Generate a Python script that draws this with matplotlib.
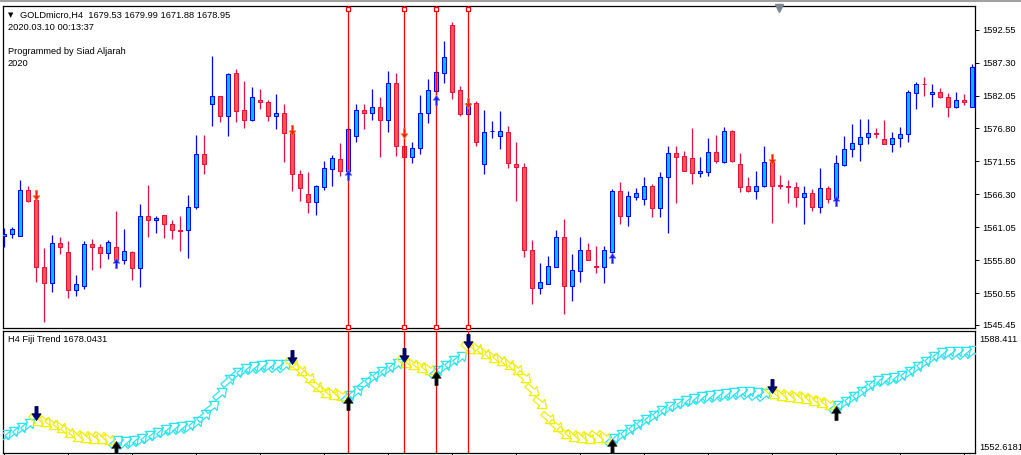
import matplotlib
matplotlib.use('Agg')
import matplotlib.pyplot as plt
from matplotlib.path import Path
from matplotlib.markers import MarkerStyle
from matplotlib.transforms import Affine2D, offset_copy
from matplotlib.lines import Line2D

plt.rcParams['font.family'] = ['Liberation Sans', 'DejaVu Sans']

# GOLDmicro H4 candles
opens = [
    1559.65, 1559.97, 1559.65, 1566.98, 1565.39, 1554.70, 1552.15, 1558.53, 1557.10, 1551.03,
    1551.67, 1558.37, 1557.89, 1556.94, 1557.89, 1555.82, 1557.10, 1554.54, 1562.84, 1562.20,
    1563.00, 1561.56, 1560.60, 1560.60, 1564.27, 1572.73, 1580.70, 1581.98, 1578.79, 1585.65,
    1579.74, 1578.15, 1581.34, 1581.02, 1578.79, 1579.27, 1576.08, 1569.54, 1566.35, 1565.07,
    1567.46, 1570.33, 1571.93, 1570.02, 1575.60, 1579.74, 1579.27, 1580.22, 1578.15, 1584.05,
    1574.00, 1572.25, 1573.68, 1579.27, 1582.78, 1585.65, 1593.30, 1582.93, 1579.11, 1580.86,
    1571.13, 1576.32, 1575.60, 1576.24, 1571.13, 1570.65, 1557.41, 1551.35, 1551.99, 1554.70,
    1559.49, 1551.67, 1554.07, 1557.41, 1554.78, 1554.70, 1557.10, 1566.83, 1562.84, 1565.87,
    1565.55, 1567.62, 1564.11, 1569.06, 1572.89, 1572.41, 1572.09, 1569.70, 1569.86, 1573.05,
    1571.45, 1576.40, 1571.13, 1567.62, 1566.83, 1567.62, 1571.45, 1567.78, 1567.62, 1567.46,
    1565.87, 1566.51, 1564.27, 1567.30, 1565.71, 1570.97, 1573.52, 1574.32, 1575.44, 1576.08,
    1575.12, 1574.32, 1575.28, 1575.92, 1582.46, 1583.89, 1582.30, 1582.62, 1581.82, 1580.22,
    1581.34, 1580.22]
highs = [
    1560.92, 1561.08, 1568.58, 1567.62, 1566.51, 1557.73, 1559.81, 1559.49, 1558.85, 1553.43,
    1558.85, 1559.17, 1558.37, 1559.01, 1563.64, 1560.76, 1557.26, 1564.75, 1567.78, 1562.84,
    1563.00, 1562.20, 1562.84, 1566.19, 1575.76, 1575.76, 1588.36, 1581.98, 1585.65, 1586.28,
    1584.37, 1583.41, 1583.09, 1581.34, 1582.30, 1580.70, 1576.87, 1570.17, 1569.86, 1567.78,
    1571.61, 1572.57, 1574.48, 1577.03, 1580.70, 1580.70, 1583.09, 1581.82, 1585.97, 1585.65,
    1576.40, 1574.64, 1582.14, 1584.69, 1586.12, 1590.75, 1593.78, 1583.57, 1581.18, 1581.18,
    1579.74, 1577.99, 1579.59, 1577.19, 1574.64, 1571.29, 1559.01, 1555.34, 1556.46, 1560.60,
    1562.36, 1556.78, 1559.49, 1558.53, 1558.05, 1558.05, 1567.14, 1568.26, 1566.83, 1567.30,
    1569.06, 1567.94, 1569.86, 1574.00, 1574.00, 1573.21, 1576.87, 1572.25, 1575.28, 1575.76,
    1577.03, 1576.55, 1572.89, 1569.06, 1570.02, 1574.00, 1572.25, 1569.38, 1568.58, 1568.26,
    1567.62, 1567.14, 1570.49, 1567.62, 1572.57, 1575.60, 1577.51, 1578.31, 1578.31, 1576.87,
    1578.15, 1576.24, 1577.03, 1582.93, 1584.21, 1585.01, 1583.89, 1583.25, 1582.46, 1582.62,
    1582.30, 1587.08]
lows = [
    1557.89, 1559.33, 1559.65, 1565.07, 1552.31, 1545.93, 1550.72, 1556.78, 1549.76, 1550.08,
    1551.19, 1554.22, 1554.54, 1555.98, 1555.34, 1555.18, 1552.63, 1551.51, 1559.49, 1560.13,
    1559.33, 1559.17, 1557.26, 1556.14, 1563.95, 1569.54, 1577.19, 1577.83, 1575.60, 1577.83,
    1576.87, 1577.99, 1579.90, 1577.99, 1576.71, 1571.45, 1566.83, 1565.23, 1563.32, 1563.00,
    1566.98, 1567.62, 1569.22, 1569.38, 1574.64, 1576.71, 1578.15, 1572.25, 1576.24, 1572.41,
    1571.77, 1571.29, 1572.73, 1577.67, 1581.34, 1584.05, 1581.50, 1578.79, 1578.79, 1574.00,
    1569.54, 1575.28, 1573.52, 1570.49, 1565.23, 1556.30, 1548.80, 1550.40, 1551.99, 1554.70,
    1547.21, 1549.28, 1552.31, 1555.82, 1553.75, 1552.15, 1556.14, 1561.56, 1561.24, 1565.39,
    1564.59, 1562.68, 1562.68, 1560.13, 1564.91, 1570.02, 1567.94, 1569.06, 1569.22, 1571.29,
    1571.29, 1571.45, 1566.67, 1566.67, 1565.55, 1567.46, 1561.72, 1567.14, 1564.91, 1564.27,
    1561.56, 1563.64, 1563.32, 1564.91, 1565.23, 1570.81, 1572.25, 1571.61, 1574.32, 1575.28,
    1574.32, 1573.05, 1573.84, 1574.64, 1579.90, 1581.98, 1580.22, 1581.66, 1578.63, 1580.06,
    1580.54, 1580.22]
closes = [
    1559.97, 1560.76, 1566.98, 1565.23, 1554.70, 1552.15, 1558.53, 1557.89, 1551.03, 1551.99,
    1558.37, 1557.89, 1556.94, 1558.69, 1555.82, 1557.26, 1554.54, 1562.84, 1562.20, 1562.52,
    1561.56, 1560.60, 1560.45, 1564.27, 1572.73, 1571.13, 1581.98, 1578.79, 1585.49, 1579.59,
    1578.15, 1581.82, 1581.02, 1578.79, 1579.27, 1576.08, 1569.54, 1567.30, 1565.07, 1567.62,
    1570.49, 1572.09, 1570.02, 1576.71, 1579.74, 1579.27, 1580.22, 1578.15, 1584.05, 1574.00,
    1572.25, 1573.68, 1579.27, 1582.93, 1585.81, 1588.20, 1582.62, 1579.11, 1580.86, 1574.64,
    1576.24, 1576.40, 1576.40, 1571.29, 1570.65, 1557.41, 1551.35, 1552.31, 1554.86, 1559.49,
    1551.67, 1554.22, 1557.41, 1555.82, 1554.62, 1557.41, 1566.83, 1562.84, 1566.03, 1566.51,
    1567.62, 1564.11, 1569.06, 1572.89, 1572.25, 1570.02, 1569.70, 1570.02, 1573.05, 1571.61,
    1576.40, 1571.61, 1567.46, 1566.83, 1567.62, 1571.45, 1567.62, 1567.62, 1567.46, 1565.87,
    1566.51, 1564.27, 1567.30, 1565.55, 1571.29, 1573.52, 1574.48, 1575.44, 1576.08, 1575.92,
    1574.32, 1575.28, 1575.92, 1582.62, 1583.89, 1583.81, 1582.62, 1581.82, 1580.22, 1581.34,
    1581.02, 1586.60]

# Fiji Trend indicator line
fiji = [
    1557.90, 1558.78, 1559.95, 1561.12, 1562.30, 1562.00, 1561.12, 1560.24, 1558.78, 1557.60,
    1557.31, 1557.02, 1557.02, 1556.72, 1556.14, 1555.84, 1556.14, 1556.72, 1557.60, 1558.48,
    1559.36, 1559.95, 1560.24, 1560.54, 1561.71, 1563.76, 1566.40, 1570.22, 1574.03, 1576.09,
    1577.26, 1577.85, 1578.14, 1578.43, 1578.43, 1578.43, 1578.73, 1576.97, 1574.91, 1572.27,
    1570.51, 1569.93, 1569.63, 1569.34, 1570.81, 1573.15, 1574.91, 1576.38, 1577.55, 1578.73,
    1579.31, 1578.73, 1577.85, 1577.26, 1576.67, 1578.14, 1579.61, 1580.78, 1583.42, 1583.42,
    1581.96, 1580.78, 1579.90, 1578.73, 1577.26, 1574.91, 1571.10, 1567.29, 1562.88, 1560.54,
    1558.48, 1557.60, 1557.31, 1557.02, 1557.31, 1557.31, 1556.72, 1557.90, 1559.36, 1560.83,
    1562.30, 1563.47, 1564.94, 1566.11, 1566.99, 1567.87, 1568.46, 1569.05, 1569.34, 1569.63,
    1569.93, 1570.22, 1570.51, 1570.51, 1570.22, 1569.93, 1570.22, 1569.63, 1569.34, 1569.05,
    1568.75, 1568.17, 1567.58, 1566.99, 1566.40, 1567.58, 1569.05, 1570.51, 1572.27, 1573.74,
    1574.33, 1574.62, 1575.21, 1576.38, 1577.85, 1579.31, 1580.78, 1581.96, 1582.25, 1582.25,
    1582.25, 1582.54]

sell_bars = [4, 36, 50, 58, 96]
buy_bars = [14, 43, 54, 76, 104]
vline_bars = [43, 50, 54, 58]
price_ticks = [1592.55, 1587.30, 1582.05, 1576.80, 1571.55, 1566.30, 1561.05, 1555.80, 1550.55, 1545.45]
ind_labels = ['1588.411', '1552.6181']

W, H = 1021, 455
fig = plt.figure(figsize=(W / 100, H / 100), dpi=100)
fig.patch.set_facecolor('white')


def box(x0, y0, x1, y1):
    return [x0 / W, 1 - y1 / H, (x1 - x0) / W, (y1 - y0) / H]


ax = fig.add_axes(box(3, 6, 975, 328))
ax2 = fig.add_axes(box(3, 331, 975, 453))
n = len(closes)
xs = list(range(n))

# candles
up = [c >= o for o, c in zip(opens, closes)]
edge = ['#0000ff' if u else '#e0143c' for u in up]
fill = ['#00c0ff' if u else '#ff5252' for u in up]
bottoms = [min(o, c) for o, c in zip(opens, closes)]
heights = [abs(c - o) for o, c in zip(opens, closes)]
ax.vlines(xs, lows, highs, colors=edge, lw=0.9, zorder=2)
ax.bar(xs, heights, bottom=bottoms, width=0.58, color=fill, edgecolor=edge, linewidth=0.75, zorder=3)

# arrow shapes
block = Path([(-0.22, -1), (0.22, -1), (0.22, 0.05), (0.65, 0.05), (0, 1), (-0.65, 0.05), (-0.22, 0.05), (-0.22, -1)],
             [Path.MOVETO] + [Path.LINETO] * 6 + [Path.CLOSEPOLY])
arr_up = MarkerStyle(block)
arr_dn = MarkerStyle(block, transform=Affine2D().rotate_deg(180))
hollow = Path([(-1, -0.3), (0.1, -0.3), (0.1, -0.75), (1, 0), (0.1, 0.75), (0.1, 0.3), (-1, 0.3), (-1, -0.3)],
              [Path.MOVETO] + [Path.LINETO] * 6 + [Path.CLOSEPOLY])
h_up = MarkerStyle(hollow, fillstyle='none', transform=Affine2D().rotate_deg(40))
h_dn = MarkerStyle(hollow, fillstyle='none', transform=Affine2D().rotate_deg(-40))

# signal arrows on price
ax.plot(sell_bars, [highs[b] for b in sell_bars], ls='none', marker=arr_dn, ms=7.5, mfc='#ff1a1a', mec='#ff8c00',
        mew=0.5, zorder=5, transform=offset_copy(ax.transData, fig=fig, y=-2, units='dots'))
ax.plot(buy_bars, [lows[b] for b in buy_bars], ls='none', marker=arr_up, ms=7.5, mfc='#1a1aff', mec='#8080ff',
        mew=0.5, zorder=5)

# vertical lines
for b in vline_bars:
    ax.axvline(b, color='red', lw=0.9, zorder=4)
    ax2.axvline(b, color='red', lw=0.9, zorder=4)
    for yy in (0.99, 0.004):
        ax.plot([b], [yy], marker='s', ms=3.5, mfc='white', mec='red', mew=0.9,
                transform=ax.get_xaxis_transform(), clip_on=False, zorder=6)

ax.set_xlim(-0.125, 121.375)
ax.set_ylim(1544.97, 1596.33)
ax.yaxis.tick_right()
ax.set_yticks(price_ticks)
ax.set_yticklabels(['%.2f' % p for p in price_ticks])
ax.set_xticks([])
ax.tick_params(axis='y', length=3, width=0.7, pad=2, labelsize=6.7)

# Fiji trend arrows
trend = []
state = 1
for i in xs:
    if i in sell_bars:
        state = -1
    elif i in buy_bars:
        state = 1
    trend.append(state)
ux = [i for i in xs if trend[i] > 0]
dx = [i for i in xs if trend[i] < 0]
ax2.plot(ux, [fiji[i] for i in ux], ls='none', marker=h_up, ms=11.5, mec='#28e6f0', mew=0.9, zorder=3)
ax2.plot(dx, [fiji[i] for i in dx], ls='none', marker=h_dn, ms=11.5, mec='#f0f000', mew=0.9, zorder=3)
ax2.plot(sell_bars, [fiji[b] for b in sell_bars], ls='none', marker=arr_dn, ms=10, mfc='#000080', mec='#000033',
         mew=0.6, zorder=5, transform=offset_copy(ax2.transData, fig=fig, y=7, units='dots'))
ax2.plot(buy_bars, [fiji[b] for b in buy_bars], ls='none', marker=arr_up, ms=10, mfc='black', mec='#202020',
         mew=0.6, zorder=5, transform=offset_copy(ax2.transData, fig=fig, y=-7, units='dots'))

ax2.set_xlim(-0.125, 121.375)
ax2.set_ylim(1552.618, 1588.411)
ax2.set_yticks([])
ax2.set_xticks(range(0, n, 8))
ax2.set_xticklabels([])
ax2.tick_params(axis='x', length=3, width=0.7, direction='out')
ax2.text(1.004, 0.934, ind_labels[0], transform=ax2.transAxes, va='center', ha='left', fontsize=6.7)
ax2.text(1.004, 0.049, ind_labels[1], transform=ax2.transAxes, va='center', ha='left', fontsize=6.7)

for a in (ax, ax2):
    for s in a.spines.values():
        s.set_linewidth(0.9)
        s.set_color('black')

# header texts
fig.text(8 / W, 1 - 15 / H, '▼', fontsize=5, family='DejaVu Sans', va='center')
fig.text(20 / W, 1 - 15 / H, 'GOLDmicro,H4  1679.53 1679.99 1671.88 1678.95', fontsize=6.7, va='center')
fig.text(8 / W, 1 - 27 / H, '2020.03.10 00:13:37', fontsize=6.7, va='center')
fig.text(8 / W, 1 - 52 / H, 'Programmed by Siad Aljarah', fontsize=6.7, va='center')
fig.text(8 / W, 1 - 63 / H, '2020', fontsize=6.7, va='center')
fig.text(8 / W, 1 - 340 / H, 'H4 Fiji Trend 1678.0431', fontsize=6.7, va='center')

fig.add_artist(Line2D([0, 1], [1 - 1 / H, 1 - 1 / H], color='#a0a0a0', lw=1.5, transform=fig.transFigure))
fig.add_artist(Line2D([779 / W], [1 - 8 / H], marker='v', ms=6, color='#7a8590', transform=fig.transFigure))

fig.savefig('out.png', dpi=100)
